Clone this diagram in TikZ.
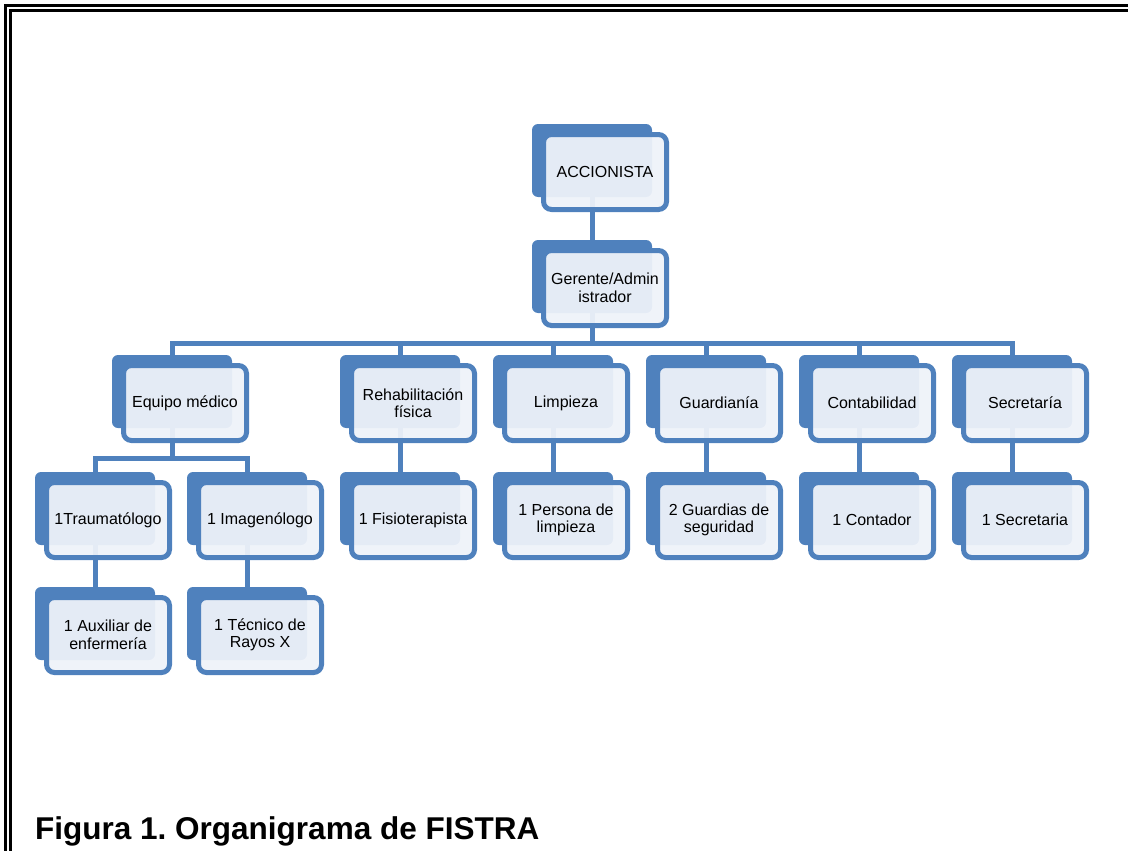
\documentclass[tikz,border=0pt]{standalone}
\usepackage{fontspec}
\setmainfont{Liberation Sans}
\usepackage{tikz}
\usepackage{xcolor}
\usetikzlibrary{positioning, calc}
\definecolor{cBlue}{RGB}{79,129,189}
\definecolor{cPale}{RGB}{238,242,249}
\tikzset{
	% back plate and front card of each box
	backbox/.style ={rectangle, rounded corners=6pt, fill=cBlue, minimum width=120pt, minimum height=73pt, inner sep=0pt},
	frontbox/.style={rectangle, rounded corners=8pt, draw=cBlue, line width=5pt, fill=cPale, fill opacity=0.94, draw opacity=1, text opacity=1, minimum width=123pt, minimum height=75pt, inner sep=2pt, align=center, font=\fontsize{16}{17.5}\selectfont},
	conn/.style    ={draw=cBlue, line width=5pt},
	frame/.style   ={line width=2.6pt},
}

\begin{document}
\begin{tikzpicture}[x=1pt, y=-1pt]
	\useasboundingbox (0,0) rectangle (1128,851);
	% page frame
	\draw[frame] (1128,5.3) -- (5.3,5.3) -- (5.3,851);
	\draw[frame] (1128,10.3) -- (10.3,10.3) -- (10.3,851);
	% back plates
	\node[backbox] (acc-bk) at (592,160.5) {};
	\node[backbox] (ger-bk) at (592,276.5) {};
	\node[backbox] (eq-bk)  at (172,391.5) {};
	\node[backbox] (reh-bk) at (400,391.5) {};
	\node[backbox] (lim-bk) at (553,391.5) {};
	\node[backbox] (gua-bk) at (706,391.5) {};
	\node[backbox] (con-bk) at (859,391.5) {};
	\node[backbox] (sec-bk) at (1012,391.5) {};
	\node[backbox] (tra-bk) at (95,508.5) {};
	\node[backbox] (ima-bk) at (247,508.5) {};
	\node[backbox] (fis-bk) at (400,508.5) {};
	\node[backbox] (per-bk) at (553,508.5) {};
	\node[backbox] (gds-bk) at (706,508.5) {};
	\node[backbox] (ctd-bk) at (859,508.5) {};
	\node[backbox] (sct-bk) at (1012,508.5) {};
	\node[backbox] (aux-bk) at (95,623.5) {};
	\node[backbox] (tec-bk) at (247,623.5) {};
	% connectors
	\coordinate (bus) at (0,343);
	\coordinate (eqbus) at (0,458);
	\draw[conn] (acc-bk.south) -- (ger-bk.north);
	\draw[conn] (ger-bk.south) -- (ger-bk.south |- bus) -| (eq-bk.north);
	\draw[conn] (ger-bk.south) -- (ger-bk.south |- bus) -| (reh-bk.north);
	\draw[conn] (ger-bk.south) -- (ger-bk.south |- bus) -| (lim-bk.north);
	\draw[conn] (ger-bk.south) -- (ger-bk.south |- bus) -| (gua-bk.north);
	\draw[conn] (ger-bk.south) -- (ger-bk.south |- bus) -| (con-bk.north);
	\draw[conn] (ger-bk.south) -- (ger-bk.south |- bus) -| (sec-bk.north);
	\draw[conn] (eq-bk.south) -- (eq-bk.south |- eqbus) -| (tra-bk.north);
	\draw[conn] (eq-bk.south) -- (eq-bk.south |- eqbus) -| (ima-bk.north);
	\draw[conn] (reh-bk.south) -- (fis-bk.north);
	\draw[conn] (lim-bk.south) -- (per-bk.north);
	\draw[conn] (gua-bk.south) -- (gds-bk.north);
	\draw[conn] (con-bk.south) -- (ctd-bk.north);
	\draw[conn] (sec-bk.south) -- (sct-bk.north);
	\draw[conn] (tra-bk.south) -- (aux-bk.north);
	\draw[conn] (ima-bk.south) -- (tec-bk.north);
	% front cards
	\node[frontbox] (acc) at (605,172) {ACCIONISTA};
	\node[frontbox] (ger) at (605,288) {Gerente/Admin\\istrador};
	\node[frontbox] (eq)  at (185,403) {Equipo médico};
	\node[frontbox] (reh) at (413,403) {Rehabilitación\\física};
	\node[frontbox] (lim) at (566,403) {Limpieza};
	\node[frontbox] (gua) at (719,403) {Guardianía};
	\node[frontbox] (con) at (872,403) {Contabilidad};
	\node[frontbox] (sec) at (1025,403) {Secretaría};
	\node[frontbox] (tra) at (108,520) {1Traumatólogo};
	\node[frontbox] (ima) at (260,520) {1 Imagenólogo};
	\node[frontbox] (fis) at (413,520) {1 Fisioterapista};
	\node[frontbox] (per) at (566,520) {1 Persona de\\limpieza};
	\node[frontbox] (gds) at (719,520) {2 Guardias de\\seguridad};
	\node[frontbox] (ctd) at (872,520) {1 Contador};
	\node[frontbox] (sct) at (1025,520) {1 Secretaria};
	\node[frontbox] (aux) at (108,635) {1 Auxiliar de\\enfermería};
	\node[frontbox] (tec) at (260,635) {1 Técnico de\\Rayos X};
	% caption
	\node[anchor=base west, inner sep=0pt, font=\fontsize{31.5}{36}\selectfont\bfseries] (cap) at (35,839) {Figura 1.\ Organigrama de FISTRA};
\end{tikzpicture}
\end{document}
